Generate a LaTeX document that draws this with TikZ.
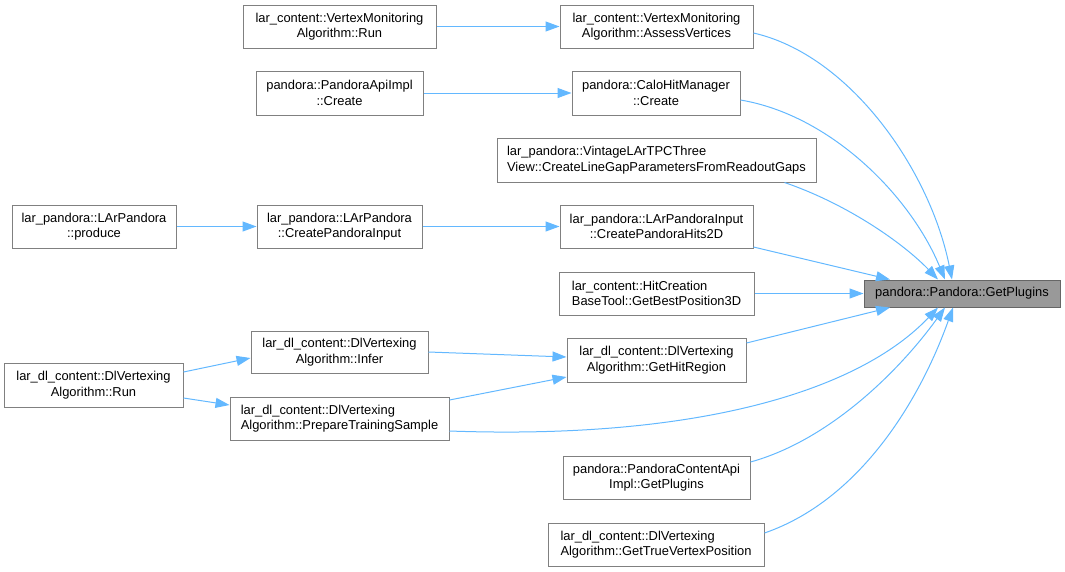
\documentclass[tikz,border=0pt]{standalone}
\usepackage{fontspec}
\setmainfont{Liberation Sans}
\usetikzlibrary{arrows.meta}
\definecolor{edgeblue}{HTML}{63B8FF}
\definecolor{boxgray}{HTML}{808080}
\definecolor{hilite}{HTML}{999999}
\definecolor{hiliteborder}{HTML}{666666}
\tikzset{
  fn/.style={draw=boxgray, fill=white, line width=1pt, inner sep=0pt,
    minimum height=43pt, font=\fontsize{12.9}{15.5}\selectfont, align=center},
  fnl/.style={fn, align=left},
  calledge/.style={draw=edgeblue, line width=1pt, -{Triangle[length=14pt,width=10pt]}}
}
\begin{document}
\begin{tikzpicture}[x=1pt,y=-1pt]
\useasboundingbox (0,0) rectangle (1065,571);
% nodes
\node[fn, minimum width=193pt] (vmrun) at (339.5,26.5) {lar\_content::VertexMonitoring\\Algorithm::Run};
\node[fn, minimum width=193pt] (assess) at (656.5,26.5) {lar\_content::VertexMonitoring\\Algorithm::AssessVertices};
\node[fn, minimum width=167pt, minimum height=44pt] (apiimpl) at (339.5,93) {pandora::PandoraApiImpl\\::Create};
\node[fn, minimum width=168pt, minimum height=44pt] (calohit) at (656,93) {pandora::CaloHitManager\\::Create};
\node[fnl, minimum width=319pt, minimum height=44pt] (vintage) at (656.5,160) {lar\_pandora::VintageLArTPCThree\\View::CreateLineGapParametersFromReadoutGaps};
\node[fn, minimum width=164pt] (produce) at (94,226.5) {lar\_pandora::LArPandora\\::produce};
\node[fn, minimum width=165pt] (cpinput) at (339.5,226.5) {lar\_pandora::LArPandora\\::CreatePandoraInput};
\node[fn, minimum width=193pt] (hits2d) at (656.5,226.5) {lar\_pandora::LArPandoraInput\\::CreatePandoraHits2D};
\node[fnl, minimum width=195pt] (hitcreation) at (656.5,293.5) {lar\_content::HitCreation\\BaseTool::GetBestPosition3D};
\node[fn, draw=hiliteborder, fill=hilite, minimum width=196pt, minimum height=27pt] (getplugins) at (962,293.5) {pandora::Pandora::GetPlugins};
\node[fn, minimum width=177pt, minimum height=42pt] (infer) at (339.5,352) {lar\_dl\_content::DlVertexing\\Algorithm::Infer};
\node[fn, minimum width=179pt, minimum height=44pt] (hitregion) at (656.5,360) {lar\_dl\_content::DlVertexing\\Algorithm::GetHitRegion};
\node[fn, minimum width=179pt, minimum height=44pt] (dlrun) at (93.5,385) {lar\_dl\_content::DlVertexing\\Algorithm::Run};
\node[fnl, minimum width=219pt] (prep) at (339.5,418.5) {lar\_dl\_content::DlVertexing\\Algorithm::PrepareTrainingSample};
\node[fn, minimum width=187pt] (pcapi) at (656.5,477.5) {pandora::PandoraContentApi\\Impl::GetPlugins};
\node[fnl, minimum width=216pt] (truevtx) at (656,544.5) {lar\_dl\_content::DlVertexing\\Algorithm::GetTrueVertexPosition};
% edges
\draw[calledge] (vmrun.east) -- (assess.west);
\draw[calledge] (apiimpl.east) -- (calohit.west);
\draw[calledge] (produce.east) -- (cpinput.west);
\draw[calledge] (cpinput.east) -- (hits2d.west);
\draw[calledge] ([yshift=13pt]dlrun.east) -- ([yshift=-6pt]infer.west);
\draw[calledge] ([yshift=-13pt]dlrun.east) -- ([yshift=13.5pt]prep.west);
\draw[calledge] (infer.east) -- ([yshift=3pt]hitregion.west);
\draw[calledge] ([yshift=18.5pt]prep.east) -- ([yshift=-17pt]hitregion.west);
\draw[calledge] ([yshift=-6.5pt]assess.east) .. controls (850,55) and (930,170) .. ([xshift=-10pt]getplugins.north);
\draw[calledge] ([yshift=-7pt]calohit.east) .. controls (830,115) and (910,195) .. ([xshift=-17pt]getplugins.north);
\draw[calledge] ([xshift=128pt]vintage.south) .. controls (850,205) and (905,245) .. ([xshift=-24pt]getplugins.north);
\draw[calledge] ([yshift=-20.5pt]hits2d.east) -- ([xshift=-72pt]getplugins.north);
\draw[calledge] (hitcreation.east) -- (getplugins.west);
\draw[calledge] ([yshift=17pt]hitregion.east) -- ([xshift=-72pt]getplugins.south);
\draw[calledge] ([yshift=-12.5pt]prep.east) .. controls (700,440) and (860,390) .. ([xshift=-24pt]getplugins.south);
\draw[calledge] ([yshift=15.5pt]pcapi.east) .. controls (830,440) and (900,370) .. ([xshift=-17pt]getplugins.south);
\draw[calledge] ([yshift=11.5pt]truevtx.east) .. controls (860,500) and (920,400) .. ([xshift=-9pt]getplugins.south);
\end{tikzpicture}
\end{document}
